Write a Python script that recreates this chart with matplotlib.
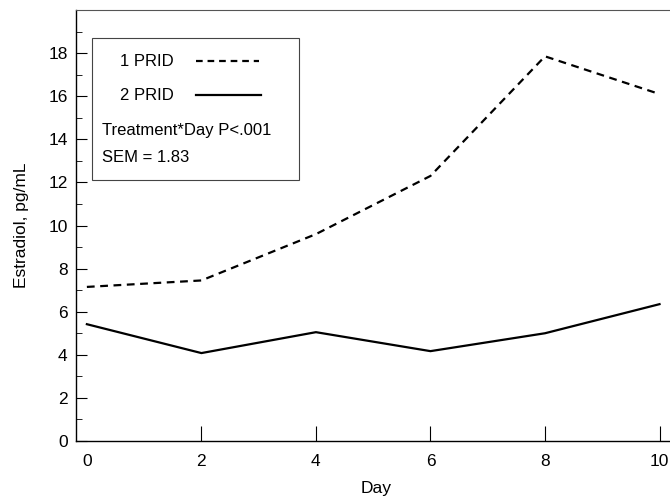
import matplotlib
matplotlib.use("Agg")
import matplotlib.pyplot as plt
from matplotlib.patches import Rectangle
from matplotlib.lines import Line2D
from matplotlib.ticker import MultipleLocator

days = [0, 2, 4, 6, 8, 10]
prid1 = [7.15, 7.45, 9.6, 12.3, 17.85, 16.1]
prid2 = [5.42, 4.08, 5.05, 4.17, 5.0, 6.35]
series_labels = ["1 PRID", "2 PRID"]
x_ticks = [0, 2, 4, 6, 8, 10]
y_ticks = [0, 2, 4, 6, 8, 10, 12, 14, 16, 18]

plt.rcParams['font.family'] = ['Liberation Sans', 'DejaVu Sans']

fig = plt.figure(figsize=(6.7, 4.97), dpi=100)
ax = fig.add_axes([76/670, 1 - 441/497, 1 - 76/670 + 0.01, (441 - 10)/497])

ax.plot(days, prid1, color='black', lw=1.6, dashes=(3.5, 2.5))
ax.plot(days, prid2, color='black', lw=1.6)

ax.set_xlim(-0.19, 10.3)
ax.set_ylim(0, 20)
ax.set_xticks(x_ticks)
ax.set_yticks(y_ticks)
ax.yaxis.set_minor_locator(MultipleLocator(1))
ax.tick_params(axis='y', which='major', direction='in', length=8, width=0.8, labelsize=12.5, pad=6)
ax.tick_params(axis='y', which='minor', direction='in', length=4, width=0.6)
ax.tick_params(axis='x', which='major', direction='in', length=11, width=0.8, labelsize=12.5, pad=9)
ax.xaxis.get_major_ticks()[0].tick1line.set_visible(False)

ax.spines['right'].set_visible(False)
ax.spines['top'].set_color('#555555')
for s in ['left', 'bottom']:
    ax.spines[s].set_linewidth(1.0)
ax.spines['top'].set_linewidth(0.8)

ax.set_xlabel("Day", fontsize=12.5, labelpad=9)
ax.set_ylabel("Estradiol, pg/mL", fontsize=12.5, labelpad=14)

# legend box
x0 = (92 - 76) / 594
x1 = (297 - 76) / 594
y0 = (441 - 180) / 431
y1 = (441 - 38) / 431
ax.add_patch(Rectangle((x0, y0), x1 - x0, y1 - y0, transform=ax.transAxes,
                       fill=False, edgecolor='#444444', lw=0.8))

def ay(py):
    return (441 - py) / 431

def axx(px):
    return (px - 76) / 594

fs = 12
ax.text(axx(120), ay(62), series_labels[0], transform=ax.transAxes, fontsize=fs, va='center', ha='left')
ax.text(axx(120), ay(96), series_labels[1], transform=ax.transAxes, fontsize=fs, va='center', ha='left')
ax.add_line(Line2D([axx(195), axx(257)], [ay(61), ay(61)], transform=ax.transAxes,
                   color='black', lw=1.6, dashes=(3.0, 2.2)))
ax.add_line(Line2D([axx(195), axx(259)], [ay(95), ay(95)], transform=ax.transAxes,
                   color='black', lw=1.6))
ax.text(axx(102), ay(130), "Treatment*Day P<.001", transform=ax.transAxes, fontsize=fs, va='center', ha='left')
ax.text(axx(102), ay(157), "SEM = 1.83", transform=ax.transAxes, fontsize=fs, va='center', ha='left')

fig.savefig("out.png", dpi=100)
